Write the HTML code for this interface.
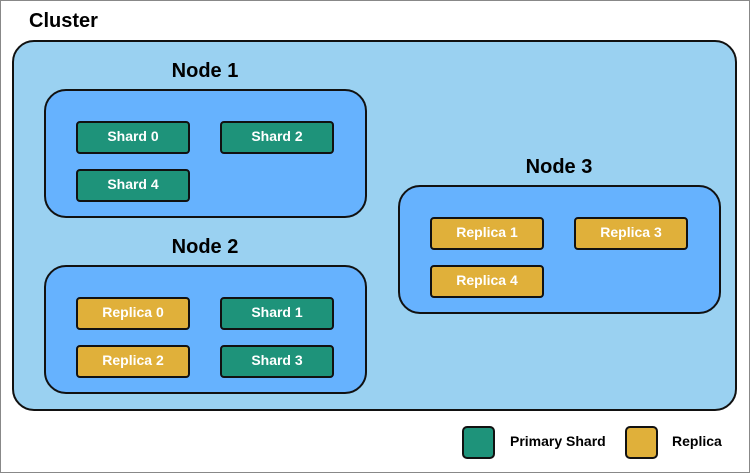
<!DOCTYPE html><html><head><style>
body{margin:0;background:#fff}
.w{position:relative;width:748px;height:471px;border:1px solid #888;overflow:hidden;font-family:"Liberation Sans",sans-serif;font-weight:bold}
.a{position:absolute;box-sizing:border-box}
.c{left:11px;top:39px;width:725px;height:371px;background:#9ad1f1;border:2px solid #111;border-radius:22px}
.n{width:323px;height:129px;background:#66b2fe;border:2px solid #111;border-radius:22px}
.b{width:114px;height:33px;border:2px solid #111;border-radius:4px;color:#fff;font-size:14px;text-align:center;line-height:26px}
.s{background:#1e937a}.r{background:#e0b03a}
.t{font-size:20px;color:#000;width:200px;text-align:center}
.l{width:33px;height:33px;border:2px solid #111;border-radius:5px}
</style></head><body><div class="w">
<div class="a" style="left:28px;top:9px;font-size:20px">Cluster</div>
<div class="a c"></div>
<div class="a t" style="left:104px;top:59px">Node 1</div>
<div class="a n" style="left:43px;top:88px"></div>
<div class="a b s" style="left:75px;top:120px">Shard 0</div>
<div class="a b s" style="left:219px;top:120px">Shard 2</div>
<div class="a b s" style="left:75px;top:168px">Shard 4</div>
<div class="a t" style="left:104px;top:235px">Node 2</div>
<div class="a n" style="left:43px;top:264px"></div>
<div class="a b r" style="left:75px;top:296px">Replica 0</div>
<div class="a b s" style="left:219px;top:296px">Shard 1</div>
<div class="a b r" style="left:75px;top:344px">Replica 2</div>
<div class="a b s" style="left:219px;top:344px">Shard 3</div>
<div class="a t" style="left:458px;top:155px">Node 3</div>
<div class="a n" style="left:397px;top:184px"></div>
<div class="a b r" style="left:429px;top:216px">Replica 1</div>
<div class="a b r" style="left:573px;top:216px">Replica 3</div>
<div class="a b r" style="left:429px;top:264px">Replica 4</div>
<div class="a l s" style="left:461px;top:425px"></div>
<div class="a" style="left:509px;top:432px;font-size:14px">Primary Shard</div>
<div class="a l r" style="left:624px;top:425px"></div>
<div class="a" style="left:671px;top:432px;font-size:14px">Replica</div>
</div></body></html>
